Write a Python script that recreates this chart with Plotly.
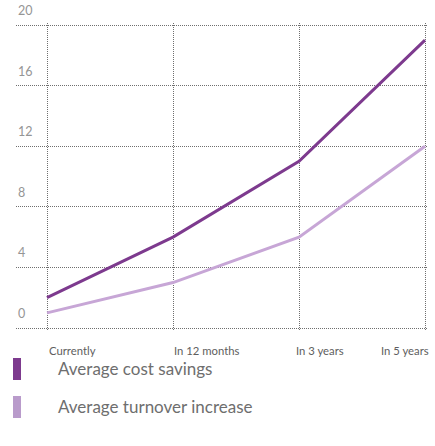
import plotly.graph_objects as go

categories = ["Currently", "In 12 months", "In 3 years", "In 5 years"]
cost_savings = [2, 6, 11, 19]
turnover_increase = [1, 3, 6, 12]
y_ticks = [0, 4, 8, 12, 16, 20]
series_names = ["Average cost savings", "Average turnover increase"]
colors = ["#7D3A8E", "#C7A6D6"]
legend_colors = ["#7D3A8E", "#B99BCB"]

W, H = 435, 446
L, R, T, B = 16, 8, 23, 116
PW, PH = W - L - R, H - T - B

xs = list(range(len(categories)))
px_per_x = 126.0
px_per_y = 303.0 / 20

fig = go.Figure()
fig.add_trace(go.Scatter(x=xs, y=turnover_increase, mode="lines",
                         line=dict(color=colors[1], width=3), name=series_names[1],
                         showlegend=False, hoverinfo="skip"))
fig.add_trace(go.Scatter(x=xs, y=cost_savings, mode="lines",
                         line=dict(color=colors[0], width=3), name=series_names[0],
                         showlegend=False, hoverinfo="skip"))


def py_to_paper(py):
    return (H - B - py) / PH


def px_to_paper(px):
    return (px - L) / PW


annotations = []
for v in y_ticks:
    annotations.append(dict(x=0, xref="paper", xanchor="left", y=v, yref="y",
                            yanchor="bottom", yshift=5, text=str(v), showarrow=False,
                            font=dict(family="Lato", size=12.5, color="#959595")))

label_px = [72, 207, 320, 405]
for c, px in zip(categories, label_px):
    annotations.append(dict(x=px_to_paper(px), xref="paper", xanchor="center",
                            y=py_to_paper(350), yref="paper", yanchor="middle",
                            text=c, showarrow=False,
                            font=dict(family="Lato", size=11.3, color="#5e5e5e")))

legend_y = [369, 407]
shapes = []
for name, col, py in zip(series_names, legend_colors, legend_y):
    shapes.append(dict(type="rect", xref="paper", yref="paper",
                       x0=px_to_paper(13), x1=px_to_paper(21),
                       y0=py_to_paper(py + 11), y1=py_to_paper(py - 11),
                       fillcolor=col, line=dict(width=0)))
    annotations.append(dict(x=px_to_paper(56), xref="paper", xanchor="left",
                            y=py_to_paper(py - 1), yref="paper", yanchor="middle",
                            text=name, showarrow=False,
                            font=dict(family="Lato", size=17, color="#6e6e6e")))

x0_px = 47
grid = dict(showgrid=True, gridcolor="#6f6f6f", griddash="1px,1px", gridwidth=1,
            zeroline=False, showline=False, fixedrange=True, showticklabels=False)
fig.update_layout(
    width=W, height=H,
    margin=dict(l=L, r=R, t=T, b=B),
    paper_bgcolor="white", plot_bgcolor="white",
    xaxis=dict(range=[-(x0_px - L) / px_per_x, 3 + (PW - (x0_px - L) - 3 * px_per_x) / px_per_x],
               tickvals=xs, **grid),
    yaxis=dict(range=[-2 / px_per_y, 20 + 2 / px_per_y], tickvals=y_ticks, **grid),
    annotations=annotations,
    shapes=shapes,
    showlegend=False,
)

fig.write_html("out.html", config={"displayModeBar": False},
               post_script="document.body.style.margin='0';")
